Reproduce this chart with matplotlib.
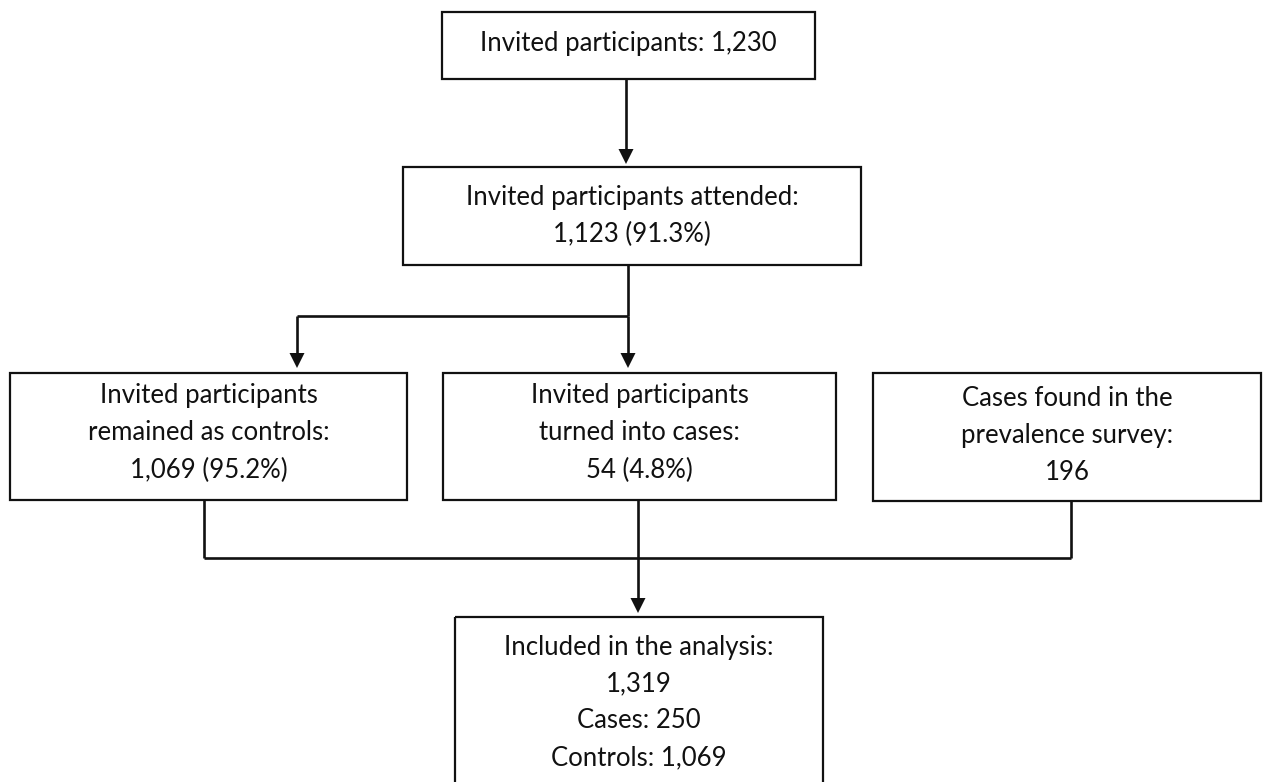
import matplotlib
matplotlib.use("Agg")
import matplotlib.pyplot as plt
from matplotlib.patches import Rectangle, Polygon

plt.rcParams['font.family'] = ['Lato', 'DejaVu Sans']

# ---- data: box texts ----
box_texts = [
    ["Invited participants: 1,230"],
    ["Invited participants attended:", "1,123 (91.3%)"],
    ["Invited participants", "remained as controls:", "1,069 (95.2%)"],
    ["Invited participants", "turned into cases:", "54 (4.8%)"],
    ["Cases found in the", "prevalence survey:", "196"],
    ["Included in the analysis:", "1,319", "Cases: 250", "Controls: 1,069"],
]

# ---- layout (pixel coordinates, y downward) ----
boxes = [  # x0, y0, x1, y1
    (442, 12, 815, 79),
    (403, 167, 861, 265),
    (10, 373, 407, 500),
    (443, 373, 836, 500),
    (873, 373, 1261, 501),
    (455, 617, 823, 790),
]
text_first_y = [44, 197, 396, 396, 399, 647]
line_step = 37
FS = 18.5

W, H = 1263, 782
fig = plt.figure(figsize=(W / 100, H / 100), dpi=100)
ax = fig.add_axes([0, 0, 1, 1])
ax.set_xlim(0, W)
ax.set_ylim(H, 0)
ax.axis('off')

LW_BOX = 1.6
LW_LINE = 1.9
for (x0, y0, x1, y1), lines, ty in zip(boxes, box_texts, text_first_y):
    ax.add_patch(Rectangle((x0, y0), x1 - x0, y1 - y0, fill=False,
                           edgecolor='#111111', lw=LW_BOX, clip_on=False))
    cx = (x0 + x1) / 2
    for i, t in enumerate(lines):
        ax.text(cx, ty + i * line_step, t, ha='center', va='center',
                fontsize=FS, color='#111111')


def seg(xs, ys):
    ax.plot(xs, ys, color='#111111', lw=LW_LINE, solid_capstyle='butt',
            solid_joinstyle='miter')


def arrow(x, y0, y1, hw=7.5, hl=15):
    seg([x, x], [y0, y1 - hl + 1])
    ax.add_patch(Polygon([(x - hw, y1 - hl), (x + hw, y1 - hl), (x, y1)],
                         closed=True, color='#111111', lw=0))


# box1 -> box2
arrow(626, 79, 164)
# box2 -> split
seg([628, 628], [265, 316])
seg([297, 628], [316, 316])
arrow(297, 316, 368)
arrow(628, 316, 368)
# merge to analysis
seg([204, 204], [500, 558])
seg([1071, 1071], [501, 558])
seg([204, 1071], [558, 558])
arrow(638, 500, 613)

fig.savefig("out.png", dpi=100, facecolor='white')
